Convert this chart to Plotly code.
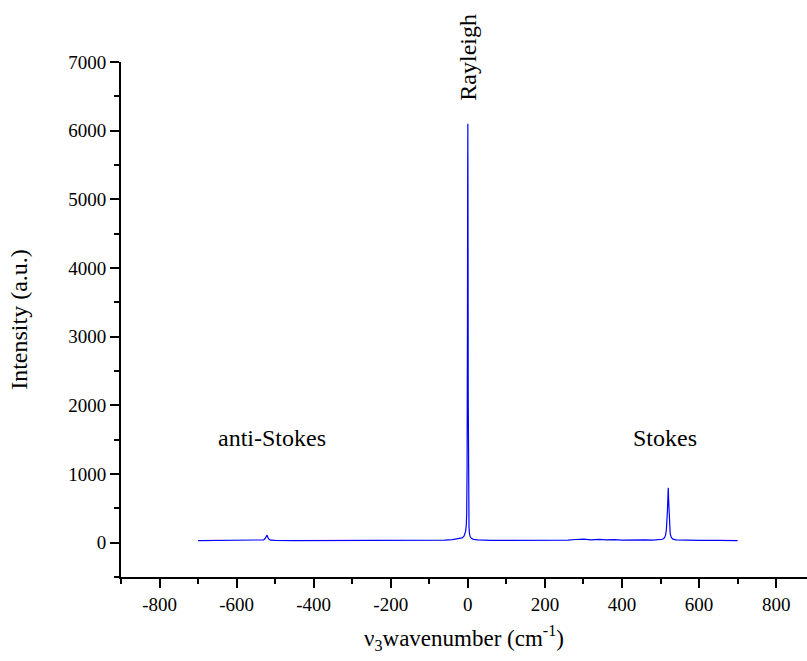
import plotly.graph_objects as go

# Raman spectrum sampled by hand: Raman shift (cm^-1) and intensity (a.u.)
shift = [
    -700, -650, -600, -560, -540, -530, -526, -523, -521, -519, -516, -512, -500,
    -450, -400, -300, -200, -120, -80, -60, -40, -25, -15, -10, -6, -4, -3, -2,
    -1.5, -1, -0.5, 0, 0.5, 1, 1.5, 2, 3, 4, 6, 10, 15, 25, 40, 60, 100, 150,
    200, 220, 240, 260, 280, 300, 320, 340, 360, 380, 400, 420, 440, 460, 480,
    495, 505, 510, 513, 515, 517, 518, 519, 520, 521, 522, 523, 525, 528, 532,
    540, 560, 600, 650, 700,
]
intensity = [
    30, 31, 31, 32, 34, 40, 60, 95, 110, 80, 50, 36, 32,
    31, 31, 32, 32, 33, 35, 38, 45, 55, 70, 95, 160, 260, 420, 1100,
    1600, 3200, 5200, 6100, 4300, 2100, 900, 480, 230, 140, 85, 60, 48, 40, 36, 34, 33, 33,
    34, 40, 44, 38, 46, 52, 42, 48, 40, 45, 38, 42, 36, 40, 38,
    42, 50, 70, 110, 180, 320, 480, 650, 800, 620, 400, 240, 130, 75, 52,
    40, 35, 33, 32, 31,
]

x_ticks = [-800, -600, -400, -200, 0, 200, 400, 600, 800]
y_ticks = [0, 1000, 2000, 3000, 4000, 5000, 6000, 7000]

serif = "Liberation Serif"

fig = go.Figure(
    go.Scatter(
        x=shift, y=intensity, mode="lines",
        line=dict(color="#0000ff", width=1.2),
        showlegend=False, hoverinfo="x+y",
    )
)

axis_common = dict(
    showline=True, linecolor="black", linewidth=2,
    ticks="outside", tickwidth=2, tickcolor="black", ticklen=9,
    showgrid=False, zeroline=False, mirror=False,
    tickfont=dict(family=serif, size=19, color="black"),
)

fig.update_xaxes(
    range=[-900, 880], tickvals=x_ticks, ticktext=[str(v) for v in x_ticks],
    minor=dict(dtick=100, tick0=0, ticks="outside", ticklen=5, tickwidth=2, tickcolor="black"),
    title=dict(text="ν<sub>3</sub>wavenumber (cm<sup>-1</sup>)",
               font=dict(family=serif, size=23, color="black"), standoff=16),
    **axis_common,
)
fig.update_yaxes(
    range=[-500, 7000], tickvals=y_ticks, ticktext=[str(v) for v in y_ticks],
    minor=dict(dtick=500, tick0=0, ticks="outside", ticklen=5, tickwidth=2, tickcolor="black"),
    title=dict(text="Intensity (a.u.)",
               font=dict(family=serif, size=24, color="black"), standoff=34),
    **axis_common,
)

label_font = dict(family=serif, size=24, color="black")
fig.add_annotation(x=-507, y=1530, text="anti-Stokes", showarrow=False, font=label_font)
fig.add_annotation(x=512, y=1530, text="Stokes", showarrow=False, font=label_font)
# Rayleigh label sits just above the top of the value axis
fig.add_annotation(x=0, xref="x", y=1.01, yref="paper", yanchor="middle",
                   text="Rayleigh", textangle=-90, showarrow=False, font=label_font)

fig.update_layout(
    width=807, height=661,
    margin=dict(l=121, r=0, t=62, b=84),
    plot_bgcolor="white", paper_bgcolor="white",
    font=dict(family=serif, color="black"),
)

fig.write_html("out.html")
